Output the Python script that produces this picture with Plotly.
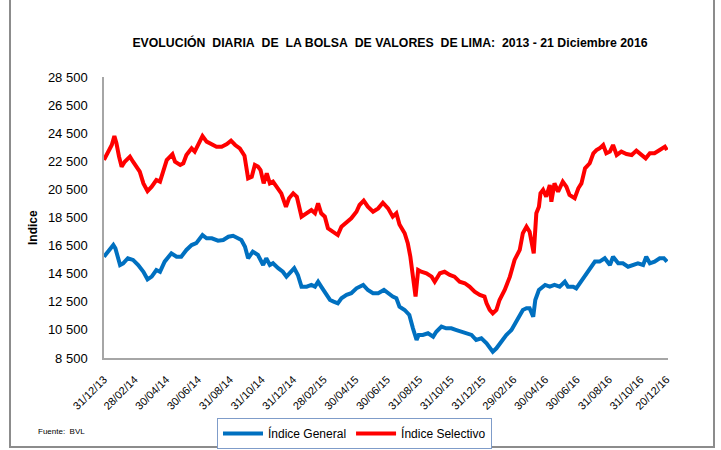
import plotly.graph_objects as go

# ---- data ----
sel_dates = [
    "2013-12-31","2014-01-08","2014-01-15","2014-01-20","2014-01-24","2014-01-29","2014-02-03","2014-02-09",
    "2014-02-19","2014-02-25","2014-03-04","2014-03-10","2014-03-17","2014-03-25","2014-04-02","2014-04-11",
    "2014-04-18","2014-04-24","2014-05-01","2014-05-12","2014-05-17","2014-05-27","2014-06-02","2014-06-08",
    "2014-06-18","2014-06-24","2014-07-01","2014-07-09","2014-07-17","2014-07-27","2014-08-05","2014-08-15",
    "2014-08-25","2014-09-02","2014-09-10","2014-09-19","2014-09-28","2014-10-05","2014-10-12","2014-10-18",
    "2014-10-24","2014-10-29","2014-11-04","2014-11-10","2014-11-16","2014-11-22","2014-11-29","2014-12-08",
    "2014-12-17","2014-12-23","2014-12-31","2015-01-07","2015-01-16","2015-01-26","2015-02-04","2015-02-11",
    "2015-02-17","2015-02-23","2015-03-02","2015-03-08","2015-03-18","2015-03-27","2015-04-03","2015-04-13",
    "2015-04-22","2015-05-02","2015-05-08","2015-05-16","2015-05-24","2015-06-03","2015-06-13","2015-06-22",
    "2015-07-02","2015-07-11","2015-07-18","2015-07-24","2015-08-03","2015-08-09","2015-08-14","2015-08-19",
    "2015-08-24","2015-08-29","2015-09-04","2015-09-14","2015-09-24","2015-09-30","2015-10-10","2015-10-19",
    "2015-10-29","2015-11-07","2015-11-17","2015-11-27","2015-12-06","2015-12-16","2015-12-26","2016-01-04",
    "2016-01-08","2016-01-14","2016-01-20","2016-01-27","2016-02-02","2016-02-12","2016-02-22","2016-03-02",
    "2016-03-12","2016-03-18","2016-03-25","2016-03-31","2016-04-08","2016-04-13","2016-04-18","2016-04-21",
    "2016-04-26","2016-05-02","2016-05-09","2016-05-12","2016-05-18","2016-05-25","2016-06-03","2016-06-10",
    "2016-06-16","2016-06-26","2016-07-03","2016-07-09","2016-07-16","2016-07-25","2016-08-01","2016-08-07",
    "2016-08-13","2016-08-20","2016-08-26","2016-09-02","2016-09-08","2016-09-15","2016-09-24","2016-10-04",
    "2016-10-14","2016-10-23","2016-11-02","2016-11-10","2016-11-18","2016-11-27","2016-12-07","2016-12-17",
    "2016-12-21",
]
sel_values = [
    22600,23180,23660,24300,23780,22830,22120,22470,
    22830,22470,22120,21760,20930,20380,20690,21170,
    21050,21880,22590,23000,22470,22240,22360,22950,
    23420,23190,23660,24300,23900,23730,23540,23540,
    23730,23970,23660,23420,22900,21290,21400,22240,
    22120,21880,20930,21640,20930,21050,20690,20220,
    19260,19870,20220,19980,18560,18800,19030,18800,
    19510,18800,18560,17730,17490,17250,17850,18200,
    18440,18910,19390,19700,19270,18910,19150,19550,
    19150,18560,18800,18000,17380,16670,15710,14290,
    12870,14760,14640,14530,14290,13930,14530,14640,
    14410,14290,13930,13820,13580,13220,12990,12870,
    12390,11920,11680,11920,12630,13340,14290,15480,
    16190,17380,17850,17490,15950,18800,19270,20220,
    20460,19980,20810,19620,20930,20340,21050,20690,
    20100,19870,20580,20930,22000,22360,23070,23300,
    23420,23660,23070,23190,23660,22950,23190,23020,
    22950,23260,22950,22710,23070,23070,23300,23540,
    23300,
]

gen_dates = [
    "2013-12-31","2014-01-08","2014-01-18","2014-01-22","2014-01-31","2014-02-06","2014-02-15","2014-02-25",
    "2014-03-07","2014-03-17","2014-03-25","2014-04-02","2014-04-11","2014-04-18","2014-04-27","2014-05-10",
    "2014-05-20","2014-05-29","2014-06-08","2014-06-18","2014-06-27","2014-07-09","2014-07-17","2014-07-27",
    "2014-08-08","2014-08-18","2014-08-28","2014-09-06","2014-09-15","2014-09-22","2014-09-29","2014-10-05",
    "2014-10-14","2014-10-24","2014-11-03","2014-11-09","2014-11-16","2014-11-22","2014-12-02","2014-12-11",
    "2014-12-18","2014-12-24","2015-01-02","2015-01-09","2015-01-16","2015-01-26","2015-02-04","2015-02-11",
    "2015-02-17","2015-02-23","2015-03-04","2015-03-12","2015-03-19","2015-03-27","2015-04-03","2015-04-13",
    "2015-04-22","2015-05-02","2015-05-15","2015-05-24","2015-06-03","2015-06-13","2015-06-24","2015-07-02",
    "2015-07-11","2015-07-18","2015-07-22","2015-07-24","2015-08-03","2015-08-12","2015-08-19","2015-08-26",
    "2015-08-30","2015-09-07","2015-09-17","2015-09-27","2015-10-03","2015-10-13","2015-10-22","2015-11-01",
    "2015-11-11","2015-11-20","2015-11-30","2015-12-10","2015-12-19","2015-12-29","2016-01-08","2016-01-14",
    "2016-01-20","2016-01-27","2016-02-06","2016-02-15","2016-02-25","2016-03-06","2016-03-12","2016-03-18",
    "2016-03-25","2016-03-31","2016-04-07","2016-04-11","2016-04-18","2016-04-30","2016-05-09","2016-05-18",
    "2016-05-28","2016-06-07","2016-06-13","2016-06-23","2016-06-29","2016-07-06","2016-07-16","2016-07-25",
    "2016-08-04","2016-08-13","2016-08-23","2016-09-02","2016-09-08","2016-09-18","2016-09-27","2016-10-07",
    "2016-10-17","2016-10-26","2016-11-05","2016-11-11","2016-11-18","2016-11-27","2016-12-07","2016-12-15",
    "2016-12-21",
]
gen_values = [
    15710,16070,16540,16300,15120,15240,15600,15480,
    15120,14640,14100,14290,14760,14640,15360,15950,
    15710,15710,16190,16540,16670,17250,17020,17020,
    16850,16900,17130,17200,17020,16900,16420,15600,
    16070,15830,15120,15600,15120,15240,14890,14640,
    14290,14530,14890,14410,13580,13580,13700,13580,
    13930,13580,13110,12630,12510,12390,12750,12990,
    13110,13460,13700,13340,13110,13110,13340,13110,
    12870,12750,12270,12160,11920,11560,10610,9780,
    10140,10140,10260,10020,10370,10730,10610,10610,
    10490,10370,10260,10140,9780,9900,9550,9190,
    8950,9190,9660,10140,10490,11080,11440,11920,
    12040,12040,11440,12630,13340,13700,13580,13700,
    13580,13930,13580,13580,13460,13820,14410,14760,
    15360,15360,15600,15120,15710,15240,15240,15000,
    15120,15240,15120,15710,15240,15360,15600,15600,
    15360,
]

tick_dates = ["2013-12-31","2014-02-28","2014-04-30","2014-06-30","2014-08-31","2014-10-31",
              "2014-12-31","2015-02-28","2015-04-30","2015-06-30","2015-08-31","2015-10-31",
              "2015-12-31","2016-02-29","2016-04-30","2016-06-30","2016-08-31","2016-10-31","2016-12-20"]
tick_labels = ["31/12/13","28/02/14","30/04/14","30/06/14","31/08/14","31/10/14",
               "31/12/14","28/02/15","30/04/15","30/06/15","31/08/15","31/10/15",
               "31/12/15","29/02/16","30/04/16","30/06/16","31/08/16","31/10/16","20/12/16"]
y_ticks = [8500, 10500, 12500, 14500, 16500, 18500, 20500, 22500, 24500, 26500, 28500]

series_names = ["Índice General", "Índice Selectivo"]
title_text = "EVOLUCIÓN&nbsp;&nbsp;DIARIA&nbsp;&nbsp;DE&nbsp;&nbsp;LA BOLSA&nbsp;&nbsp;DE VALORES&nbsp;&nbsp;DE LIMA:&nbsp;&nbsp;2013 - 21 Diciembre 2016"

FONT = "Liberation Sans, Arial, sans-serif"

# plot area geometry (px)
W, H = 721, 450
L, R, T, B = 104, 668, 77, 358
pw, ph = R - L, B - T
def px(x):
    return (x - L) / pw
def py(y):
    return (B - y) / ph

fig = go.Figure()
fig.add_trace(go.Scatter(x=gen_dates, y=gen_values, mode="lines", name=series_names[0],
                         line=dict(color="#0070C0", width=4)))
fig.add_trace(go.Scatter(x=sel_dates, y=sel_values, mode="lines", name=series_names[1],
                         line=dict(color="#FF0000", width=4)))

fig.update_layout(
    width=W, height=H,
    margin=dict(l=L, r=W - R, t=T, b=H - B, autoexpand=False),
    paper_bgcolor="white", plot_bgcolor="white",
    separators=", ",
    font=dict(family=FONT, size=13, color="#000000"),
    title=dict(text=title_text, x=390 / W, xref="container", xanchor="center",
               y=1 - 43 / H, yref="container", yanchor="middle",
               font=dict(family=FONT, size=12.3, color="#000000", weight="bold")),
    showlegend=True,
    legend=dict(orientation="h", x=px(217), y=py(418), xanchor="left", yanchor="top",
                bordercolor="#7F9CC9", borderwidth=1, bgcolor="white",
                font=dict(family=FONT, size=12), itemwidth=40, tracegroupgap=0),
    xaxis=dict(type="date", range=["2013-12-31", "2016-12-23"], automargin=False,
               tickmode="array", tickvals=tick_dates, ticktext=tick_labels,
               tickangle=-45, showgrid=False, zeroline=False,
               showline=True, linecolor="#A6A6A6", linewidth=1.5,
               ticks="", tickfont=dict(family=FONT, size=11), ticklabelstandoff=9),
    yaxis=dict(range=[8500, 28500], tickmode="array", tickvals=y_ticks, automargin=False,
               tickformat=",d", showgrid=False, zeroline=False,
               showline=True, linecolor="#A6A6A6", linewidth=1.5,
               ticks="", tickfont=dict(family=FONT, size=13), ticklabelstandoff=12),
)

fig.add_annotation(text="<b>Indice</b>", x=px(33), y=py(228), xref="paper", yref="paper",
                   textangle=-90, showarrow=False, font=dict(family=FONT, size=12),
                   xanchor="center", yanchor="middle")
fig.add_annotation(text="Fuente:&nbsp;&nbsp;BVL", x=px(36), y=py(431), xref="paper", yref="paper",
                   showarrow=False, font=dict(family=FONT, size=8),
                   xanchor="left", yanchor="middle")
# chart-area border
fig.add_shape(type="rect", xref="paper", yref="paper",
              x0=px(10), x1=px(714), y0=py(447), y1=py(-5),
              line=dict(color="#8C8C8C", width=2), fillcolor="rgba(0,0,0,0)", layer="below")

fig.write_html("out.html")
